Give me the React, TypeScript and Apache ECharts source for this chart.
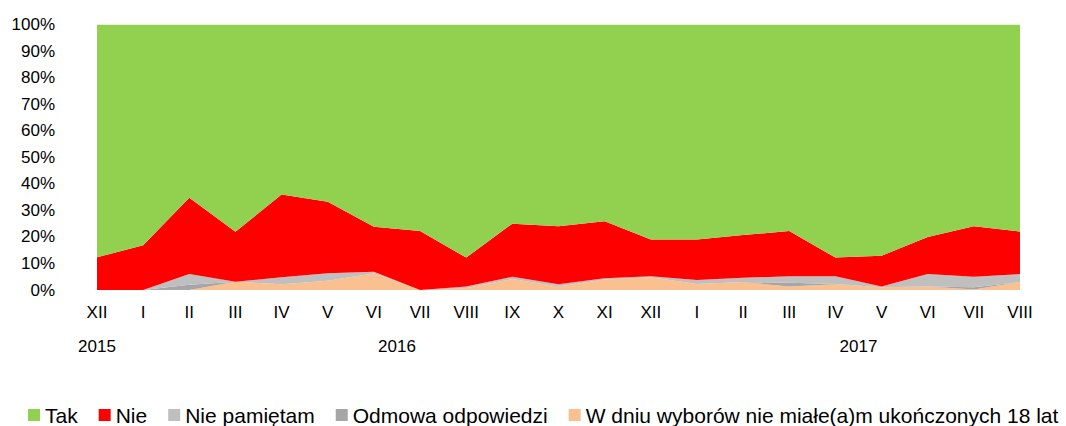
import React, { useEffect, useRef } from "react";
import * as echarts from "echarts";

const months = ["XII", "I", "II", "III", "IV", "V", "VI", "VII", "VIII", "IX", "X", "XI", "XII", "I", "II", "III", "IV", "V", "VI", "VII", "VIII"];
const years = [
  { label: "2015", at: 0 },
  { label: "2016", at: 6.5 },
  { label: "2017", at: 16.5 },
];
const wDniu = [0, 0, 0, 3.1, 2.2, 3.5, 6.3, 0, 0.8, 4.1, 1.3, 4, 4.8, 2.3, 3, 1.3, 2.2, 1, 1.3, 0.2, 3];
const odmowa = [0, 0, 2, 0, 0, 0, 0, 0, 0, 0, 0, 0, 0, 0, 0, 1.4, 0.1, 0, 0, 0.8, 0];
const niePamietam = [0, 0, 4, 0, 2.6, 2.8, 0.6, 0, 0.5, 0.9, 0.9, 0.4, 0.4, 1.5, 1.6, 2.5, 2.9, 0.3, 4.7, 4, 3];
const nie = [12.3, 16.9, 28.7, 18.8, 31.2, 26.9, 16.9, 22.2, 10.9, 20, 21.8, 21.5, 13.8, 15.2, 16.1, 17, 7, 11.6, 14, 19, 16];
const tak = [87.7, 83.1, 65.3, 78.1, 64, 66.8, 76.2, 77.8, 87.8, 75, 76, 74.1, 81, 81, 79.3, 77.8, 87.8, 87.1, 80, 76, 78];

const FONT = "'Liberation Sans', Arial, sans-serif";
const W = 1066;
const H = 426;
const GRID_L = 97;
const GRID_R = 46;

export default function App() {
  const ref = useRef<HTMLDivElement>(null);
  useEffect(() => {
    if (!ref.current) return;
    const chart = echarts.init(ref.current, null, { renderer: "svg" });
    const plotW = W - GRID_L - GRID_R;
    const step = plotW / (months.length - 1);
    const mk = (name: string, data: number[], color: string) => ({
      name,
      type: "line",
      stack: "total",
      data,
      symbol: "none",
      showSymbol: false,
      lineStyle: { width: 0, color },
      itemStyle: { color },
      areaStyle: { color, opacity: 1 },
    });
    chart.setOption({
      animation: false,
      textStyle: { fontFamily: FONT },
      grid: { left: GRID_L, right: GRID_R, top: 24.5, bottom: 136, containLabel: false },
      legend: {
        left: 28,
        top: 404,
        width: 1038,
        padding: 0,
        itemWidth: 12,
        itemHeight: 12,
        itemGap: 21,
        icon: "rect",
        textStyle: { fontSize: 21, lineHeight: 22, color: "#000", fontFamily: FONT },
        data: ["Tak", "Nie", "Nie pamiętam", "Odmowa odpowiedzi", "W dniu wyborów nie miałe(a)m ukończonych 18 lat"],
      },
      xAxis: {
        type: "category",
        data: months,
        boundaryGap: false,
        axisLine: { show: false },
        axisTick: { show: false },
        axisLabel: { color: "#000", fontSize: 17, margin: 14, interval: 0, fontFamily: FONT },
      },
      yAxis: {
        type: "value",
        min: 0,
        max: 100,
        interval: 10,
        axisLine: { show: false },
        axisTick: { show: false },
        splitLine: { show: false },
        axisLabel: { color: "#000", fontSize: 17, margin: 42, formatter: "{value}%", fontFamily: FONT },
      },
      graphic: years.map((y) => ({
        type: "text",
        x: GRID_L + y.at * step,
        y: 346,
        style: {
          text: y.label,
          fill: "#000",
          font: `17px ${FONT}`,
          textAlign: "center",
          textVerticalAlign: "middle",
        },
      })),
      series: [
        mk("W dniu wyborów nie miałe(a)m ukończonych 18 lat", wDniu, "#FAC090"),
        mk("Odmowa odpowiedzi", odmowa, "#A6A6A6"),
        mk("Nie pamiętam", niePamietam, "#BFBFBF"),
        mk("Nie", nie, "#FF0000"),
        mk("Tak", tak, "#92D050"),
      ],
    });
    return () => chart.dispose();
  }, []);
  return <div ref={ref} style={{ width: W, height: H, position: "absolute", left: 0, top: 0 }} />;
}
